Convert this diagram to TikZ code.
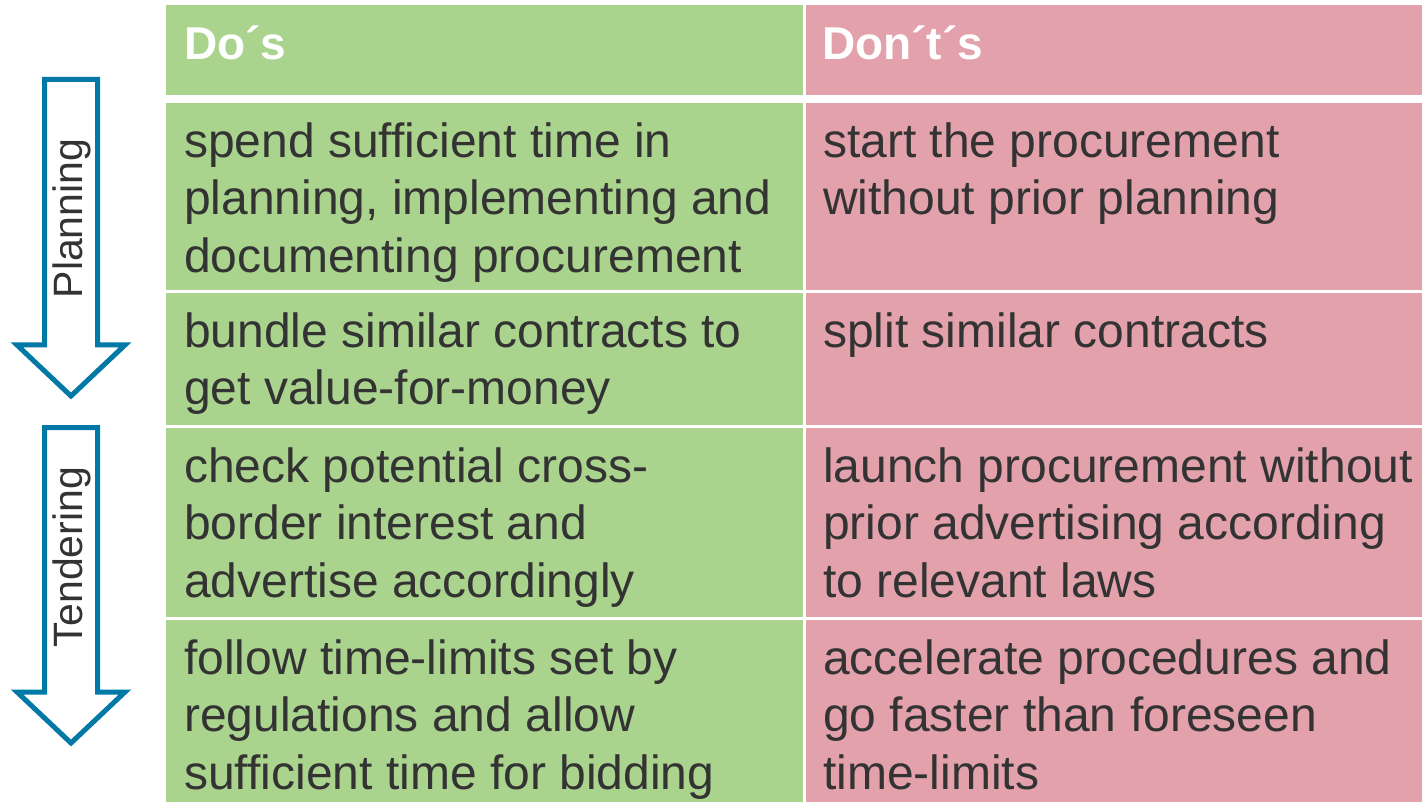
\documentclass[tikz,border=0pt]{standalone}
\usepackage{fontspec}
\setmainfont{Liberation Sans}
\usetikzlibrary{calc}
\definecolor{cgreen}{RGB}{170,212,142}
\definecolor{cpink}{RGB}{227,162,171}
\definecolor{cblue}{RGB}{0,121,167}
\definecolor{ctext}{RGB}{51,51,51}
\tikzset{
  cellG/.style={fill=cgreen, draw=none, anchor=north west, inner sep=0pt, outer sep=0pt},
  cellP/.style={fill=cpink, draw=none, anchor=north west, inner sep=0pt, outer sep=0pt},
  body/.style={anchor=north west, inner sep=0pt, align=left, text=ctext,
    font=\fontsize{48}{57.5}\selectfont},
  head/.style={anchor=base west, inner sep=0pt, text=white,
    font=\fontsize{46}{55}\selectfont\bfseries},
  phase/.style={anchor=base, inner sep=0pt, rotate=90, text=ctext,
    font=\fontsize{41}{49}\selectfont},
  arrowline/.style={draw=cblue, line width=5pt, line join=miter, fill=white}
}
\newcommand{\fl}{\rule{0pt}{40pt}}
\begin{document}
\begin{tikzpicture}[x=1pt,y=-1pt]
\useasboundingbox (0,0) rectangle (1422,802);
\fill[white] (0,0) rectangle (1422,802);
% header
\node[cellG, minimum width=637.5pt, minimum height=90pt] (hg) at (165.5,5) {};
\node[cellP, minimum width=616.5pt, minimum height=90pt] (hp) at (805.5,5) {};
\node[head] (hgt) at (184,60) {Do´s};
\node[head] (hpt) at (822,60) {Don´t´s};
% row 1
\node[cellG, minimum width=637.5pt, minimum height=187pt] (g1) at (165.5,103) {};
\node[cellP, minimum width=616.5pt, minimum height=187pt] (p1) at (805.5,103) {};
% row 2
\node[cellG, minimum width=637.5pt, minimum height=132pt] (g2) at (165.5,293) {};
\node[cellP, minimum width=616.5pt, minimum height=132pt] (p2) at (805.5,293) {};
% row 3
\node[cellG, minimum width=637.5pt, minimum height=189pt] (g3) at (165.5,428) {};
\node[cellP, minimum width=616.5pt, minimum height=189pt] (p3) at (805.5,428) {};
% row 4
\node[cellG, minimum width=637.5pt, minimum height=182pt] (g4) at (165.5,620) {};
\node[cellP, minimum width=616.5pt, minimum height=182pt] (p4) at (805.5,620) {};
% texts
\node[body] (tg1) at ($(g1.north west)+(18.5,14)$) {\fl spend sufficient time in\\planning, implementing and\\documenting procurement};
\node[body] (tp1) at ($(p1.north west)+(17.5,14)$) {\fl start the procurement\\without prior planning};
\node[body] (tg2) at ($(g2.north west)+(18.5,14)$) {\fl bundle similar contracts to\\get value-for-money};
\node[body] (tp2) at ($(p2.north west)+(17.5,14)$) {\fl split similar contracts};
\node[body] (tg3) at ($(g3.north west)+(18.5,14)$) {\fl check potential cross-\\border interest and\\advertise accordingly};
\node[body] (tp3) at ($(p3.north west)+(17.5,14)$) {\fl launch procurement without\\prior advertising according\\to relevant laws};
\node[body] (tg4) at ($(g4.north west)+(18.5,14)$) {\fl follow time-limits set by\\regulations and allow\\sufficient time for bidding};
\node[body] (tp4) at ($(p4.north west)+(17.5,14)$) {\fl accelerate procedures and\\go faster than foreseen\\time-limits};
% arrows
\draw[arrowline] (44.5,79.5) -- (97.5,79.5) -- (97.5,345) -- (125,345) -- (71,396) -- (17,345) -- (44.5,345) -- cycle;
\draw[arrowline] (44.5,427.5) -- (97.5,427.5) -- (97.5,692) -- (125,692) -- (71,743) -- (17,692) -- (44.5,692) -- cycle;
\node[phase] (lp) at (82,218.5) {Planning};
\node[phase] (lt) at (82,557) {Tendering};
\end{tikzpicture}
\end{document}
